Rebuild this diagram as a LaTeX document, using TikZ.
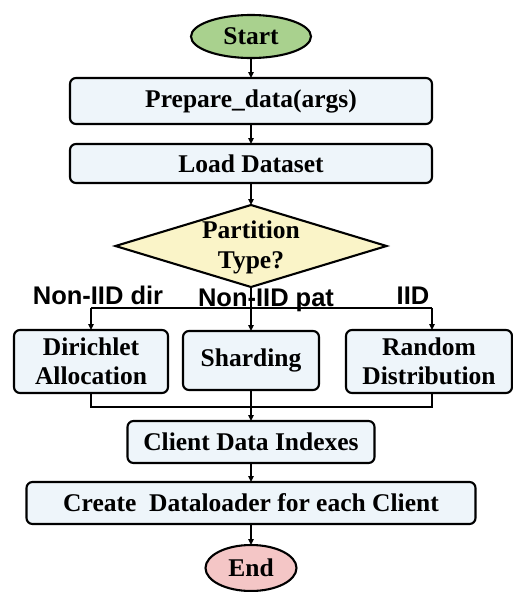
\documentclass[tikz,border=0pt]{standalone}
\usepackage{fontspec}
\setmainfont{Liberation Serif}
\newfontfamily\lsans{Liberation Sans}
\usetikzlibrary{shapes.geometric,arrows.meta}
\definecolor{boxfill}{HTML}{EEF5FA}
\definecolor{startfill}{HTML}{A9D18E}
\definecolor{diafill}{HTML}{FAF4C8}
\definecolor{endfill}{HTML}{F4C6C6}
\tikzset{
  base/.style={draw=black, line width=2.1pt, inner sep=0pt, outer sep=0pt,
    font=\fontsize{25.5}{29}\selectfont\bfseries, align=center},
  procbox/.style={base, rectangle, rounded corners=6pt, fill=boxfill},
  term/.style={base, ellipse},
  decision/.style={base, diamond, fill=diafill},
  conn/.style={line width=1.4pt, draw=black},
  arr/.style={conn, -{Triangle[width=5.5pt,length=6pt]}},
  lab/.style={inner sep=0pt, anchor=base, font=\lsans\fontsize{25.5}{28}\selectfont\bfseries}
}
\begin{document}
\begin{tikzpicture}[x=1pt,y=-1pt]
\useasboundingbox (0,0) rectangle (513,592);
\node[term, fill=startfill, minimum width=120pt, minimum height=43pt] (start) at (251,36.5) {Start};
\node[procbox, minimum width=362pt, minimum height=46pt] (prep) at (251,101) {Prepare\_data(args)};
\node[procbox, minimum width=362pt, minimum height=39pt] (load) at (251,163.5) {Load Dataset};
\node[decision, minimum width=271pt, minimum height=82pt] (dia) at (251,246) {};
\node[inner sep=0pt, font=\fontsize{25.5}{30}\selectfont\bfseries, align=center] (diatext) at (251,247) {Partition\\Type?};
\node[procbox, minimum width=154pt, minimum height=63pt] (dir) at (91,361.5) {Dirichlet\\Allocation};
\node[procbox, minimum width=136pt, minimum height=59pt] (shard) at (251,360.5) {Sharding};
\node[procbox, minimum width=166pt, minimum height=63pt] (rand) at (429,361.5) {Random\\Distribution};
\node[procbox, minimum width=247pt, minimum height=42pt] (client) at (251,442) {Client Data Indexes};
\node[procbox, minimum width=449pt, minimum height=42pt] (create) at (251,503) {Create\ \ Dataloader for each Client};
\node[term, fill=endfill, minimum width=91pt, minimum height=46pt] (end) at (251,568) {End};
\node[lab] (l1) at (98,304) {Non-IID dir};
\node[lab] (l3) at (413,304) {IID};
\coordinate (bl) at (91,308);
\coordinate (br) at (432,308);
\coordinate (ml) at (91,407);
\coordinate (mr) at (432,407);
\draw[arr] (start) -- (prep);
\draw[arr] (prep) -- (load);
\draw[arr] (load) -- (dia);
\draw[conn] (bl) -- (br);
\draw[arr] (bl) -- (dir.north);
\draw[arr] (br) -- (br |- rand.north);
\node[lab] (l2) at (266,306) {Non-IID pat};
\draw[arr] (dia.south) -- (shard.north);
\draw[conn] (dir.south) -- (ml) -- (mr) -- (mr |- rand.south);
\draw[arr] (shard.south) -- (client.north);
\draw[arr] (client) -- (create);
\draw[arr] (create) -- (end);
\end{tikzpicture}
\end{document}
